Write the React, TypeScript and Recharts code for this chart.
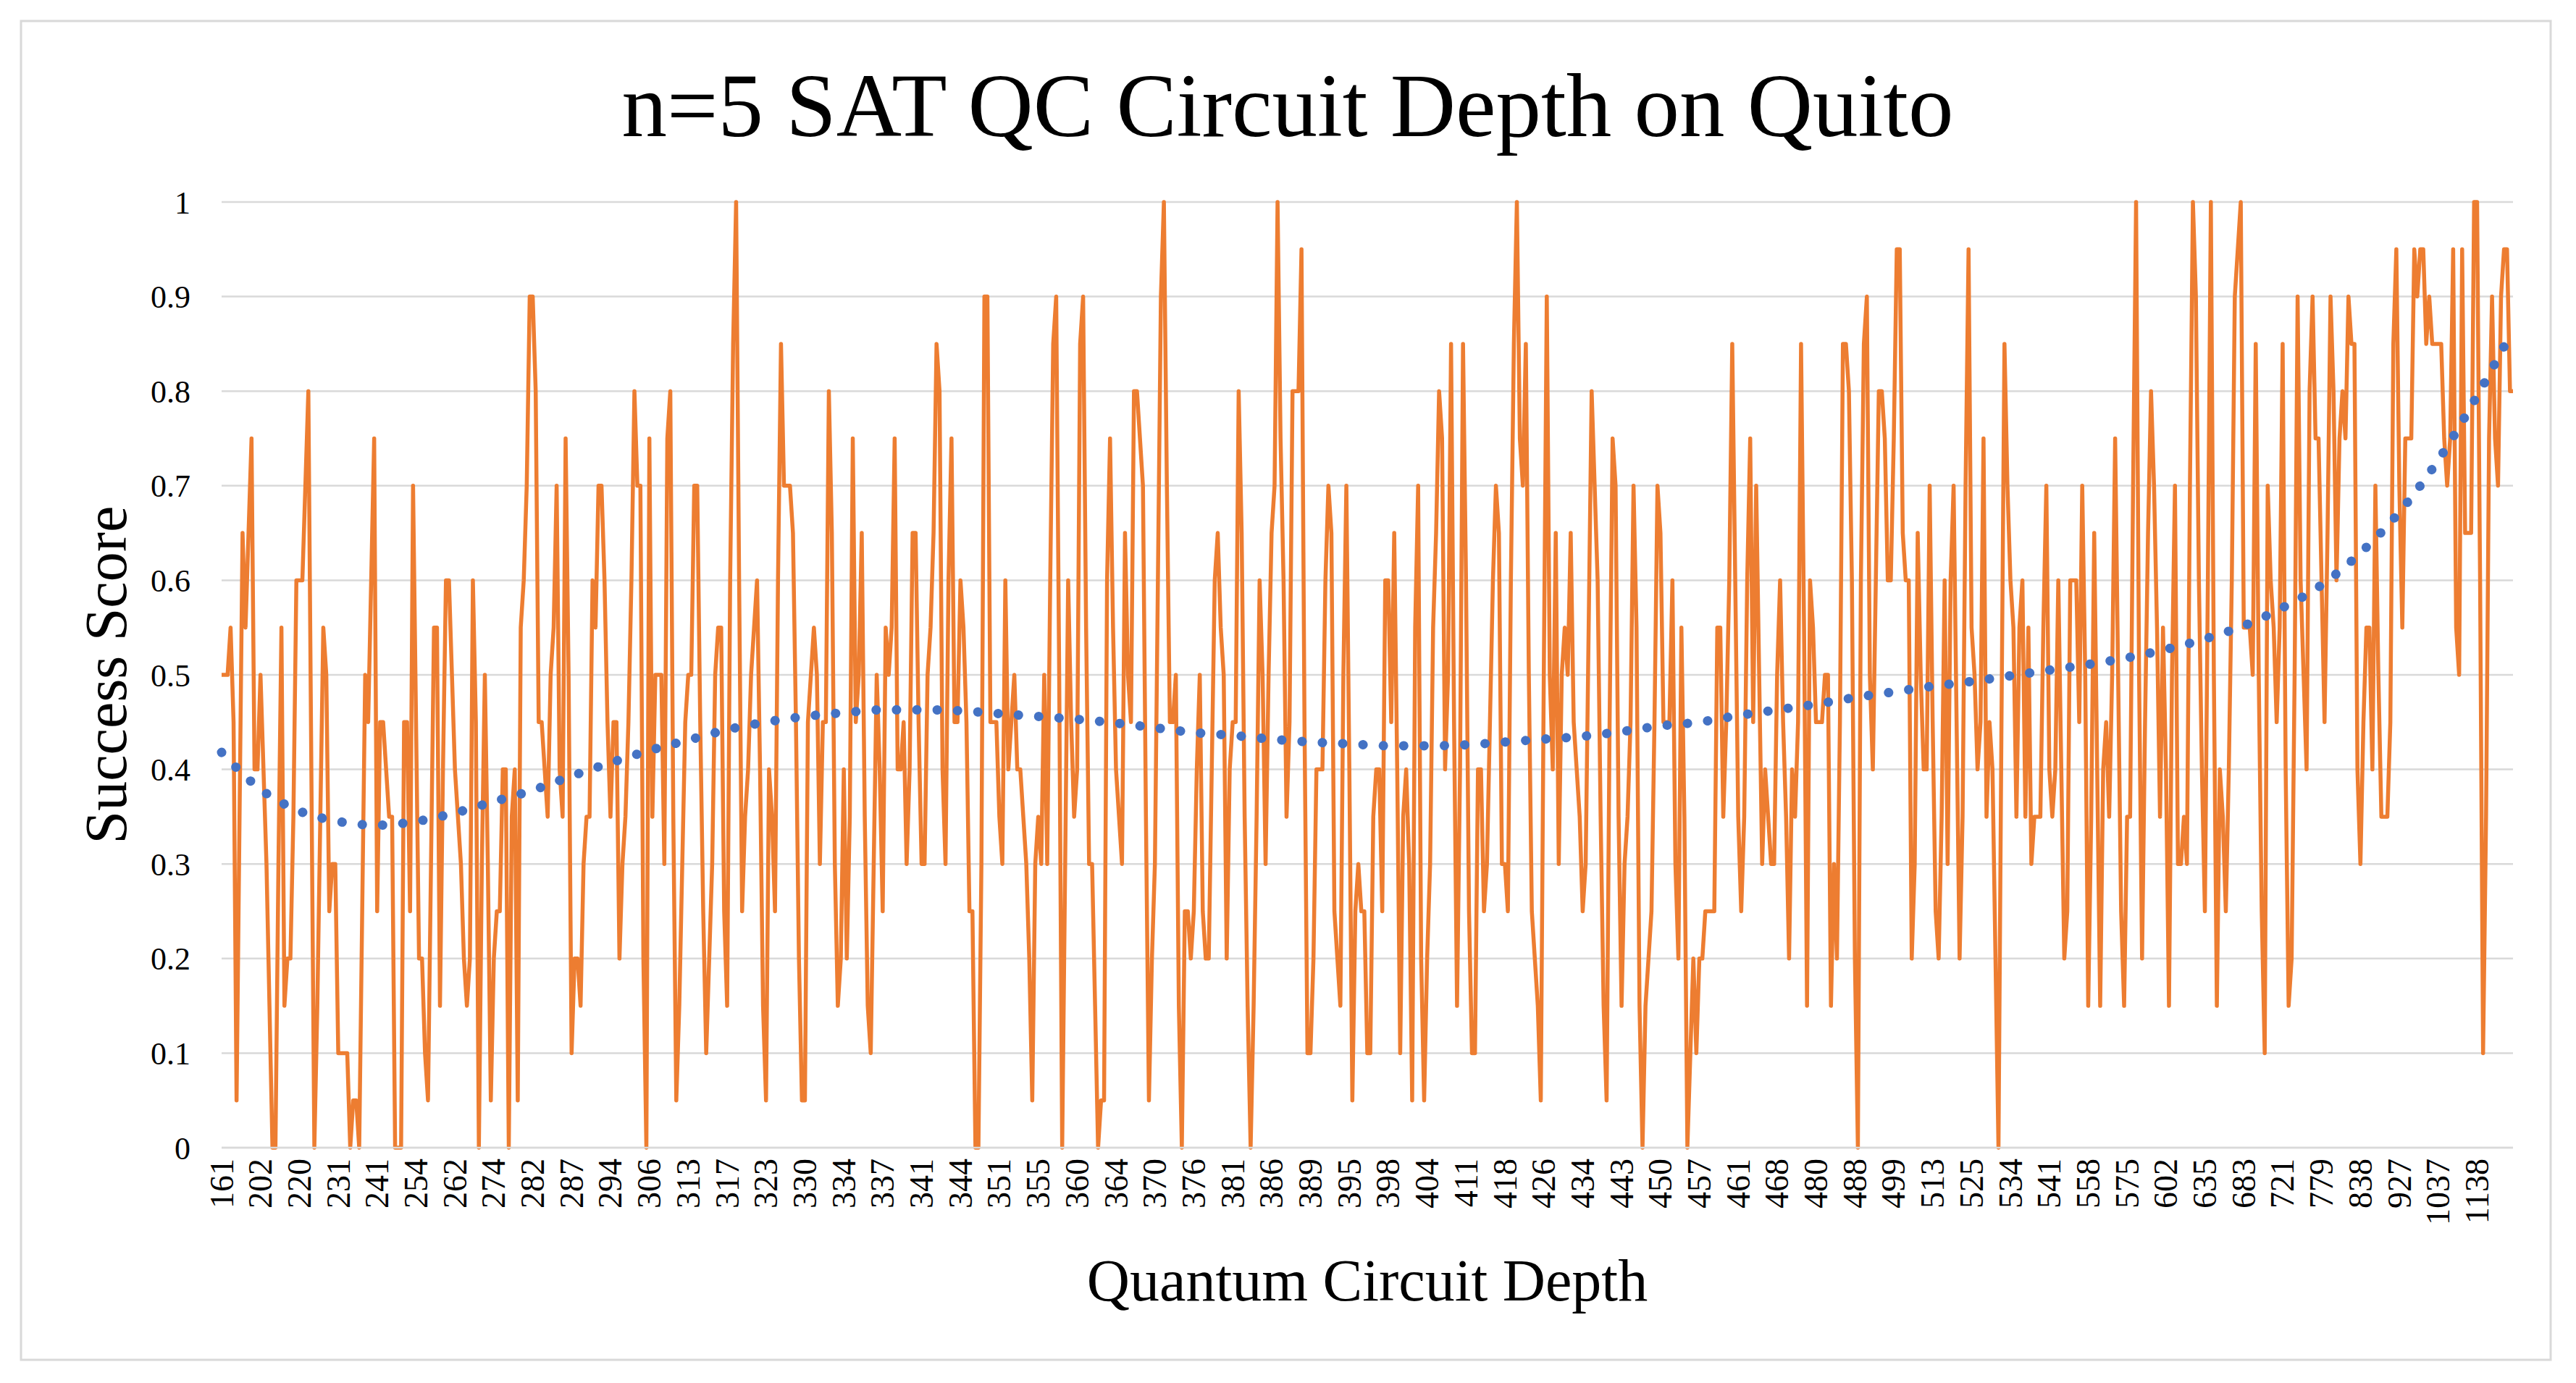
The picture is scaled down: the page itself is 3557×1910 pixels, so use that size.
import { CartesianGrid, Line, LineChart, XAxis, YAxis } from "recharts";

// x-axis labels (every 13th depth is shown on the axis)
const depthLabels = [
  161, 202, 220, 231, 241, 254, 262, 274, 282, 287, 294, 306, 313, 317, 323,
  330, 334, 337, 341, 344, 351, 355, 360, 364, 370, 376, 381, 386, 389, 395,
  398, 404, 411, 418, 426, 434, 443, 450, 457, 461, 468, 480, 488, 499, 513,
  525, 534, 541, 558, 575, 602, 635, 683, 721, 779, 838, 927, 1037, 1138,
];

// success score per circuit, one row per labelled group of 13
const scores = [
  0.5, 0.5, 0.5, 0.55, 0.45, 0.05, 0.35, 0.65, 0.55, 0.65, 0.75, 0.4, 0.4,
  0.5, 0.4, 0.3, 0.15, 0, 0, 0.3, 0.55, 0.15, 0.2, 0.2, 0.35, 0.6,
  0.6, 0.6, 0.7, 0.8, 0.4, 0, 0.15, 0.35, 0.55, 0.5, 0.25, 0.3, 0.3,
  0.1, 0.1, 0.1, 0.1, 0, 0.05, 0.05, 0, 0.25, 0.5, 0.45, 0.6, 0.75,
  0.25, 0.45, 0.45, 0.4, 0.35, 0.35, 0, 0, 0, 0.45, 0.45, 0.25, 0.7,
  0.45, 0.2, 0.2, 0.1, 0.05, 0.3, 0.55, 0.55, 0.15, 0.4, 0.6, 0.6, 0.5,
  0.4, 0.35, 0.3, 0.2, 0.15, 0.2, 0.6, 0.45, 0, 0.3, 0.5, 0.3, 0.05,
  0.2, 0.25, 0.25, 0.4, 0.4, 0, 0.35, 0.4, 0.05, 0.55, 0.6, 0.7, 0.9,
  0.9, 0.8, 0.45, 0.45, 0.4, 0.35, 0.5, 0.55, 0.7, 0.4, 0.35, 0.75, 0.5,
  0.1, 0.2, 0.2, 0.15, 0.3, 0.35, 0.35, 0.6, 0.55, 0.7, 0.7, 0.6, 0.45,
  0.35, 0.45, 0.45, 0.2, 0.3, 0.35, 0.45, 0.6, 0.8, 0.7, 0.7, 0.2, 0,
  0.75, 0.35, 0.5, 0.5, 0.5, 0.3, 0.75, 0.8, 0.35, 0.05, 0.15, 0.3, 0.45,
  0.5, 0.5, 0.7, 0.7, 0.45, 0.25, 0.1, 0.2, 0.3, 0.5, 0.55, 0.55, 0.25,
  0.15, 0.6, 0.85, 1, 0.6, 0.25, 0.35, 0.4, 0.5, 0.55, 0.6, 0.4, 0.15,
  0.05, 0.4, 0.35, 0.25, 0.6, 0.85, 0.7, 0.7, 0.7, 0.65, 0.45, 0.2, 0.05,
  0.05, 0.45, 0.5, 0.55, 0.5, 0.3, 0.45, 0.45, 0.8, 0.65, 0.3, 0.15, 0.2,
  0.4, 0.2, 0.35, 0.75, 0.45, 0.5, 0.65, 0.35, 0.15, 0.1, 0.3, 0.5, 0.4,
  0.25, 0.55, 0.5, 0.55, 0.75, 0.4, 0.4, 0.45, 0.3, 0.4, 0.65, 0.65, 0.45,
  0.3, 0.3, 0.5, 0.55, 0.65, 0.85, 0.8, 0.4, 0.3, 0.6, 0.75, 0.45, 0.45,
  0.6, 0.55, 0.45, 0.25, 0.25, 0, 0, 0.3, 0.9, 0.9, 0.45, 0.45, 0.45,
  0.35, 0.3, 0.6, 0.4, 0.45, 0.5, 0.4, 0.4, 0.35, 0.3, 0.2, 0.05, 0.3,
  0.35, 0.3, 0.5, 0.3, 0.6, 0.85, 0.9, 0.5, 0, 0.3, 0.6, 0.45, 0.35,
  0.4, 0.85, 0.9, 0.55, 0.3, 0.3, 0.15, 0, 0.05, 0.05, 0.6, 0.75, 0.55,
  0.4, 0.35, 0.3, 0.65, 0.5, 0.45, 0.8, 0.8, 0.75, 0.7, 0.35, 0.05, 0.2,
  0.3, 0.6, 0.9, 1, 0.7, 0.45, 0.45, 0.5, 0.15, 0, 0.25, 0.25, 0.2,
  0.25, 0.4, 0.5, 0.25, 0.2, 0.2, 0.4, 0.6, 0.65, 0.55, 0.5, 0.2, 0.4,
  0.45, 0.45, 0.8, 0.65, 0.35, 0.15, 0, 0.15, 0.35, 0.6, 0.5, 0.3, 0.5,
  0.65, 0.7, 1, 0.75, 0.6, 0.35, 0.45, 0.8, 0.8, 0.8, 0.95, 0.45, 0.1,
  0.1, 0.2, 0.4, 0.4, 0.4, 0.6, 0.7, 0.65, 0.25, 0.2, 0.15, 0.5, 0.7,
  0.4, 0.05, 0.25, 0.3, 0.25, 0.25, 0.1, 0.1, 0.35, 0.4, 0.4, 0.25, 0.6,
  0.6, 0.45, 0.65, 0.4, 0.1, 0.35, 0.4, 0.3, 0.05, 0.55, 0.7, 0.2, 0.05,
  0.2, 0.3, 0.55, 0.65, 0.8, 0.75, 0.4, 0.5, 0.85, 0.45, 0.15, 0.4, 0.85,
  0.6, 0.25, 0.1, 0.1, 0.4, 0.4, 0.25, 0.3, 0.45, 0.6, 0.7, 0.65, 0.3,
  0.3, 0.25, 0.6, 0.85, 1, 0.75, 0.7, 0.85, 0.5, 0.25, 0.2, 0.15, 0.05,
  0.5, 0.9, 0.5, 0.4, 0.65, 0.3, 0.5, 0.55, 0.5, 0.65, 0.45, 0.4, 0.35,
  0.25, 0.3, 0.55, 0.8, 0.7, 0.6, 0.35, 0.15, 0.05, 0.45, 0.75, 0.7, 0.35,
  0.15, 0.3, 0.35, 0.45, 0.7, 0.55, 0.15, 0, 0.15, 0.2, 0.25, 0.45, 0.7,
  0.65, 0.45, 0.45, 0.45, 0.6, 0.3, 0.2, 0.55, 0.35, 0, 0.1, 0.2, 0.1,
  0.2, 0.2, 0.25, 0.25, 0.25, 0.25, 0.55, 0.55, 0.35, 0.45, 0.6, 0.85, 0.6,
  0.35, 0.25, 0.35, 0.6, 0.75, 0.45, 0.7, 0.5, 0.3, 0.4, 0.35, 0.3, 0.3,
  0.5, 0.6, 0.45, 0.35, 0.2, 0.4, 0.35, 0.45, 0.85, 0.55, 0.15, 0.6, 0.55,
  0.45, 0.45, 0.45, 0.5, 0.5, 0.15, 0.3, 0.2, 0.45, 0.85, 0.85, 0.8, 0.6,
  0.2, 0, 0.6, 0.85, 0.9, 0.5, 0.4, 0.6, 0.8, 0.8, 0.75, 0.6, 0.6,
  0.75, 0.95, 0.95, 0.65, 0.6, 0.6, 0.2, 0.3, 0.65, 0.5, 0.4, 0.4, 0.7,
  0.45, 0.25, 0.2, 0.35, 0.6, 0.3, 0.6, 0.7, 0.45, 0.2, 0.35, 0.7, 0.95,
  0.55, 0.5, 0.4, 0.45, 0.75, 0.35, 0.45, 0.4, 0.2, 0, 0.45, 0.85, 0.7,
  0.6, 0.55, 0.35, 0.55, 0.6, 0.35, 0.55, 0.3, 0.35, 0.35, 0.35, 0.55, 0.7,
  0.4, 0.35, 0.4, 0.6, 0.4, 0.2, 0.25, 0.6, 0.6, 0.6, 0.45, 0.7, 0.5,
  0.15, 0.35, 0.65, 0.4, 0.15, 0.4, 0.45, 0.35, 0.5, 0.75, 0.5, 0.25, 0.15,
  0.35, 0.35, 0.7, 1, 0.5, 0.2, 0.45, 0.65, 0.8, 0.7, 0.55, 0.35, 0.55,
  0.4, 0.15, 0.5, 0.7, 0.3, 0.3, 0.35, 0.3, 0.7, 1, 0.9, 0.6, 0.4,
  0.25, 0.6, 1, 0.5, 0.15, 0.4, 0.35, 0.25, 0.4, 0.6, 0.9, 0.95, 1,
  0.55, 0.55, 0.55, 0.5, 0.85, 0.5, 0.25, 0.1, 0.7, 0.6, 0.55, 0.45, 0.55,
  0.85, 0.4, 0.15, 0.2, 0.5, 0.9, 0.6, 0.5, 0.4, 0.8, 0.9, 0.75, 0.75,
  0.6, 0.45, 0.65, 0.9, 0.8, 0.6, 0.75, 0.8, 0.75, 0.9, 0.85, 0.85, 0.4,
  0.3, 0.45, 0.55, 0.55, 0.4, 0.7, 0.5, 0.35, 0.35, 0.35, 0.45, 0.85, 0.95,
  0.7, 0.55, 0.75, 0.75, 0.75, 0.95, 0.9, 0.95, 0.95, 0.85, 0.9, 0.85, 0.85,
  0.85, 0.85, 0.75, 0.7, 0.75, 0.95, 0.55, 0.5, 0.95, 0.65, 0.65, 0.65, 1,
  1, 0.6, 0.1, 0.35, 0.75, 0.9, 0.75, 0.7, 0.9, 0.95, 0.95, 0.8, 0.8,
];

// polynomial trendline, read at every labelled point and at the last point
const trendValues = [
  0.418, 0.379, 0.356, 0.345, 0.341, 0.345, 0.354, 0.366, 0.378, 0.393,
  0.407, 0.42, 0.431, 0.442, 0.45, 0.456, 0.46, 0.463, 0.463, 0.462,
  0.459, 0.456, 0.453, 0.449, 0.444, 0.439, 0.436, 0.432, 0.429, 0.427,
  0.425, 0.425, 0.426, 0.429, 0.432, 0.435, 0.44, 0.446, 0.45, 0.457,
  0.463, 0.469, 0.476, 0.482, 0.488, 0.493, 0.499, 0.505, 0.511, 0.518,
  0.527, 0.538, 0.552, 0.571, 0.595, 0.629, 0.672, 0.727, 0.795, 0.865,
];

const yTicks = [0, 0.1, 0.2, 0.3, 0.4, 0.5, 0.6, 0.7, 0.8, 0.9, 1];

const W = 3557;
const H = 1910;
const STEP = 13;
const FONT = "'Liberation Serif', 'Times New Roman', serif";

const lastIdx = scores.length - 1;
const rows = scores.map((score, idx) => ({ idx, score, trend: null as number | null }));
trendValues.forEach((v, k) => {
  rows[Math.min(k * STEP, lastIdx)].trend = v;
});
const xTicks = depthLabels.map((_, k) => k * STEP);

function DepthTick({ x, y, payload }: any) {
  return (
    <text
      x={x}
      y={y}
      transform={`rotate(-90 ${x} ${y})`}
      textAnchor="end"
      dominantBaseline="central"
      fontSize={46}
      fontFamily={FONT}
      fill="#000"
    >
      {depthLabels[Math.round(payload.value / STEP)]}
    </text>
  );
}

export default function App() {
  return (
    <div style={{ position: "absolute", left: 0, top: 0, width: W, height: H, background: "#fff" }}>
      <LineChart
        width={W}
        height={H}
        data={rows}
        margin={{ top: 279, right: 87, bottom: 175, left: 206 }}
      >
        <CartesianGrid vertical={false} stroke="#d9d9d9" strokeWidth={2.5} />
        <XAxis
          type="number"
          dataKey="idx"
          domain={[0, lastIdx]}
          ticks={xTicks}
          interval={0}
          height={150}
          tickSize={0}
          tickMargin={15}
          tickLine={false}
          axisLine={{ stroke: "#d9d9d9", strokeWidth: 2.5 }}
          tick={<DepthTick />}
        />
        <YAxis
          type="number"
          domain={[0, 1]}
          ticks={yTicks}
          interval={0}
          width={100}
          tickSize={0}
          tickMargin={43}
          axisLine={false}
          tickLine={false}
          tick={{ fontSize: 44, fontFamily: FONT, fill: "#000" }}
        />
        <Line
          dataKey="score"
          type="linear"
          stroke="#ED7D31"
          strokeWidth={5.5}
          strokeLinejoin="round"
          dot={false}
          activeDot={false}
          isAnimationActive={false}
        />
        <Line
          dataKey="trend"
          type="monotone"
          connectNulls
          stroke="#4472C4"
          strokeWidth={13}
          strokeDasharray="0.1 28"
          strokeLinecap="round"
          dot={false}
          activeDot={false}
          isAnimationActive={false}
        />
      </LineChart>
      <svg
        width={W}
        height={H}
        style={{ position: "absolute", left: 0, top: 0, pointerEvents: "none" }}
      >
        <rect x={29} y={29} width={3493} height={1849} fill="none" stroke="#d9d9d9" strokeWidth={3} />
        <text x={1778} y={188} textAnchor="middle" fontSize={125} fontFamily={FONT} fill="#000">
          n=5 SAT QC Circuit Depth on Quito
        </text>
        <text x={1888} y={1796} textAnchor="middle" fontSize={82} fontFamily={FONT} fill="#000">
          Quantum Circuit Depth
        </text>
        <text
          x={174}
          y={932}
          transform="rotate(-90 174 932)"
          textAnchor="middle"
          fontSize={82}
          fontFamily={FONT}
          fill="#000"
        >
          Success Score
        </text>
      </svg>
    </div>
  );
}
